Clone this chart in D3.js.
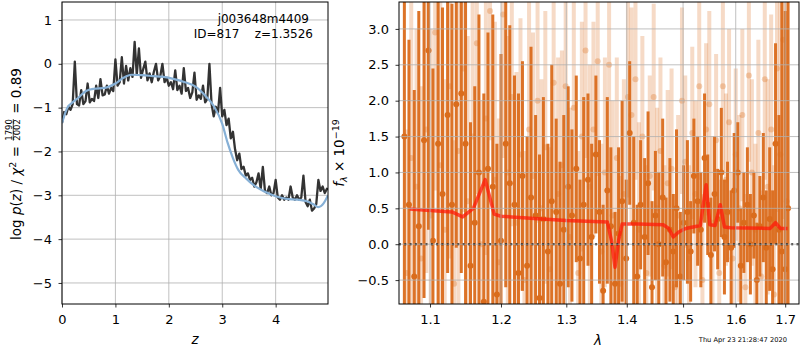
<!DOCTYPE html>
<html>
<head>
<meta charset="utf-8">
<script src="https://cdn.jsdelivr.net/npm/d3@7"></script>
<style>
  body { margin: 0; background: #fff; }
  svg { font-family: "DejaVu Sans", sans-serif; }
</style>
</head>
<body>
<div id="chart"></div>
<script>
// p(z) panel: redshift grid and log p(z) (noisy) + smooth prior curve
const pzZ = [0.00,0.04,0.08,0.12,0.16,0.20,0.24,0.28,0.32,0.36,0.40,0.44,0.48,0.52,0.56,0.60,0.64,0.68,0.72,0.76,0.80,0.84,0.88,0.92,0.96,
  1.00,1.04,1.08,1.12,1.16,1.20,1.24,1.28,1.32,1.36,1.40,1.44,1.48,1.52,1.56,1.60,1.64,1.68,1.72,1.76,1.80,1.84,1.88,1.92,1.96,
  2.00,2.04,2.08,2.12,2.16,2.20,2.24,2.28,2.32,2.36,2.40,2.44,2.48,2.52,2.56,2.60,2.64,2.68,2.72,2.76,2.80,2.84,2.88,2.92,2.96,
  3.00,3.04,3.08,3.12,3.16,3.20,3.24,3.28,3.32,3.36,3.40,3.44,3.48,3.52,3.56,3.60,3.64,3.68,3.72,3.76,3.80,3.84,3.88,3.92,3.96,
  4.00,4.04,4.08,4.12,4.16,4.20,4.24,4.28,4.32,4.36,4.40,4.44,4.48,4.52,4.56,4.60,4.64,4.68,4.72,4.76,4.80,4.84,4.88,4.92,4.96,4.98];
const pzLog = [-1.35,-1.10,-1.15,-0.98,-1.05,-0.92,0.05,-0.92,-0.95,-0.60,-0.92,-0.85,-0.45,-0.88,-0.80,-0.85,-0.50,-0.78,-0.35,-0.72,-0.70,-0.50,-0.68,-0.55,-0.62,
  0.10,-0.50,-0.42,0.15,-0.45,-0.05,-0.38,-0.10,-0.30,0.50,-0.25,0.35,-0.32,-0.12,0.05,-0.38,-0.22,-0.42,-0.18,0.00,-0.38,-0.28,0.00,-0.42,-0.32,
  -0.50,-0.42,-0.58,-0.15,-0.60,-0.50,-0.68,-0.10,-0.62,-0.55,-0.78,-0.65,-0.20,-0.82,-0.72,-0.80,-0.50,-0.88,-0.80,0.00,-0.92,-1.20,-0.98,-1.12,-0.55,
  -1.20,-1.05,-1.40,-1.25,-1.70,-1.55,-1.95,-2.20,-2.05,-2.40,-2.35,-2.55,-2.50,-2.65,-2.60,-2.80,-2.70,-2.50,-2.85,-2.35,-2.90,-2.95,-2.80,-3.00,-2.95,
  -2.65,-3.05,-3.10,-3.00,-3.10,-3.05,-3.10,-2.80,-3.05,-3.10,-3.00,-3.10,-3.05,-2.55,-3.15,-3.25,-3.10,-3.35,-3.30,-3.20,-2.65,-2.90,-2.80,-2.95,-2.85,-2.88];
const priorZ = [0,0.1,0.2,0.3,0.45,0.6,0.8,1.0,1.15,1.3,1.5,1.7,1.9,2.1,2.3,2.5,2.7,2.85,3.0,3.1,3.2,3.3,3.45,3.6,3.8,4.0,4.2,4.4,4.6,4.7,4.8,4.9,4.98];
const priorLog = [-1.35,-1.0,-0.88,-0.78,-0.62,-0.57,-0.55,-0.45,-0.32,-0.25,-0.26,-0.28,-0.30,-0.35,-0.42,-0.52,-0.75,-0.98,-1.37,-1.8,-2.15,-2.42,-2.62,-2.78,-2.92,-3.02,-3.08,-3.10,-3.14,-3.20,-3.27,-3.18,-3.0];

// spectrum panel: two sets of flux points (dark / faint) with errors
const darkLam = [1.066,1.072,1.079,1.085,1.092,1.098,1.104,1.111,1.117,1.124,1.130,1.136,1.143,1.149,1.156,1.162,1.168,1.175,1.181,1.188,
  1.194,1.200,1.207,1.213,1.220,1.226,1.232,1.239,1.245,1.252,1.258,1.264,1.271,1.277,1.284,1.290,1.296,1.303,1.309,1.316,
  1.322,1.328,1.335,1.341,1.348,1.354,1.360,1.367,1.373,1.380,1.386,1.392,1.399,1.405,1.412,1.418,1.424,1.431,1.437,1.444,
  1.450,1.456,1.463,1.469,1.476,1.482,1.488,1.495,1.501,1.508,1.514,1.520,1.527,1.533,1.540,1.546,1.552,1.559,1.565,1.572,
  1.578,1.584,1.591,1.597,1.604,1.610,1.616,1.623,1.629,1.636,1.642,1.648,1.655,1.661,1.668,1.674,1.680,1.687,1.693,1.700,1.706];
const darkFlux = [1.50,0.55,-0.45,0.25,1.45,2.70,0.05,1.40,0.70,1.80,0.55,1.95,2.10,1.40,-0.30,0.30,1.00,-0.80,1.05,0.80,
  -0.70,0.05,1.40,0.85,0.55,-0.40,0.95,-0.30,0.65,0.40,-0.75,0.35,-0.10,0.60,0.45,-0.55,0.20,0.80,0.40,1.05,
  -0.20,0.55,0.90,0.10,1.25,0.45,-0.65,0.75,0.25,-0.55,0.15,0.60,-0.20,1.55,0.30,-0.45,0.55,0.10,0.85,-0.60,
  0.40,0.00,0.65,-0.25,0.20,-0.10,0.50,-0.45,0.30,0.45,-0.10,0.95,0.60,0.20,1.20,0.55,-0.15,0.70,0.35,1.00,
  0.10,0.45,-0.05,0.75,1.00,-0.30,0.30,0.55,0.00,0.40,-0.50,0.25,0.65,-0.05,0.35,-0.35,1.40,0.20,-0.10,-0.35,0.50];
const darkErr = [2.8,2.3,2.6,3.0,2.2,2.5,2.4,3.0,2.6,2.2,2.8,2.0,2.5,2.4,2.0,1.9,2.2,2.9,1.9,2.4,
  2.1,2.6,2.0,2.2,1.8,2.5,1.6,1.8,2.1,1.4,2.0,1.7,1.5,1.9,1.3,1.7,1.6,1.4,1.2,1.3,
  1.1,1.5,1.2,1.3,1.1,1.0,1.2,1.3,1.1,1.0,1.2,1.4,1.1,1.0,1.2,1.0,0.9,1.1,1.0,1.2,
  0.9,1.0,1.1,0.9,1.0,0.8,1.1,0.9,0.8,1.0,0.7,0.8,0.9,0.8,0.9,0.7,0.8,0.8,0.7,0.9,
  0.8,0.7,0.8,0.8,0.7,0.8,0.7,0.8,0.7,0.6,0.8,0.7,0.9,0.8,1.0,1.1,1.4,1.6,3.5,3.6,3.0];

const faintLam = [1.069,1.075,1.082,1.088,1.095,1.101,1.107,1.114,1.120,1.127,1.133,1.139,1.146,1.152,1.159,1.165,1.171,1.178,1.184,1.191,
  1.197,1.203,1.210,1.216,1.223,1.229,1.235,1.242,1.248,1.255,1.261,1.267,1.274,1.280,1.287,1.293,1.299,1.306,1.312,1.319,
  1.325,1.331,1.338,1.344,1.351,1.357,1.363,1.370,1.376,1.383,1.389,1.395,1.402,1.408,1.415,1.421,1.427,1.434,1.440,1.447,
  1.453,1.459,1.466,1.472,1.479,1.485,1.491,1.498,1.504,1.511,1.517,1.523,1.530,1.536,1.543,1.549,1.555,1.562,1.568,1.575,
  1.581,1.587,1.594,1.600,1.607,1.613,1.619,1.626,1.632,1.639,1.645,1.651,1.658,1.664,1.671,1.677,1.683,1.690,1.696,1.703];
const faintFlux = [-0.40,1.20,0.80,-0.20,1.60,0.40,2.95,1.10,0.20,2.20,-0.55,1.30,2.45,0.60,1.50,2.80,0.00,1.75,3.25,0.90,
  -0.25,3.20,1.00,2.05,0.30,1.25,-0.50,1.60,0.95,2.00,0.50,1.35,-0.35,2.25,0.70,1.10,2.20,0.10,1.90,-0.40,
  1.50,2.70,0.80,1.60,2.55,-0.10,1.00,2.50,0.40,1.20,-0.55,0.70,2.05,1.80,2.30,0.20,1.50,-0.40,0.95,2.05,
  0.50,1.30,-0.30,0.85,1.05,-0.60,0.40,2.00,1.15,-0.20,1.55,0.70,2.20,-0.50,1.60,1.95,0.30,1.45,-0.40,2.20,
  0.90,1.70,-0.20,1.25,0.50,1.80,-0.60,2.35,1.00,0.20,1.55,-0.45,2.30,0.80,1.60,-0.70,2.45,1.25,2.85,0.60];
const faintErr = [2.0,2.5,2.2,2.4,2.0,2.6,2.2,2.3,2.1,2.4,2.0,2.2,2.0,2.3,2.0,2.1,2.0,1.9,1.8,2.2,
  2.0,2.0,1.9,1.8,2.1,1.9,1.8,1.9,2.0,1.7,1.8,1.9,1.7,1.8,1.9,1.6,1.7,1.8,1.6,1.7,
  1.6,1.5,1.7,1.5,1.6,1.5,1.6,1.5,1.6,1.4,1.5,1.6,1.4,1.5,1.4,1.5,1.4,1.5,1.4,1.3,
  1.4,1.3,1.4,1.3,1.4,1.3,1.4,1.3,1.2,1.3,1.2,1.3,1.3,1.2,1.2,1.3,1.2,1.2,1.3,1.2,
  1.2,1.3,1.2,1.2,1.3,1.2,1.3,1.2,1.3,1.2,1.3,1.2,1.4,1.5,1.6,1.8,2.0,2.4,2.5,3.0];

// best-fit template (red line)
const modelLam = [1.073,1.100,1.130,1.145,1.160,1.177,1.190,1.200,1.250,1.300,1.367,1.374,1.380,1.386,1.392,1.420,1.464,1.474,1.482,1.492,1.505,1.532,1.543,1.550,1.560,1.570,1.578,1.590,1.669,1.680,1.690,1.705];
const modelFlux = [0.49,0.47,0.45,0.38,0.50,0.90,0.42,0.39,0.36,0.33,0.31,0.05,-0.32,0.05,0.28,0.28,0.27,0.22,0.10,0.17,0.22,0.26,0.83,0.27,0.26,0.55,0.24,0.23,0.22,0.30,0.22,0.22];

const zTicks = [0, 1, 2, 3, 4];
const logTicks = [1, 0, -1, -2, -3, -4, -5];
const lamTicks = [1.1, 1.2, 1.3, 1.4, 1.5, 1.6, 1.7];
const fluxTicks = [-0.5, 0, 0.5, 1.0, 1.5, 2.0, 2.5, 3.0];

const W = 800, H = 350;
const orange = "#da6c1c";

const svg = d3.select("#chart").append("svg")
    .attr("width", W)
    .attr("height", H);
svg.append("rect").attr("width", W).attr("height", H).attr("fill", "#fff");

// panel boxes
const left = { x0: 62, x1: 328, y0: 2, y1: 304 };
const right = { x0: 399, x1: 799, y0: 2, y1: 304 };

// scales
const xz = d3.scaleLinear().domain([0, 4.98]).range([left.x0, left.x1]);
const yp = d3.scaleLinear().domain([-5.48, 1.41]).range([left.y1, left.y0]);
const xl = d3.scaleLog().domain([1.059, 1.729]).range([right.x0, right.x1]);
const yf = d3.scaleLinear().domain([-0.833, 3.375]).range([right.y1, right.y0]);

function styleAxis(g) {
    g.attr("font-family", "DejaVu Sans").attr("font-size", 13);
    g.select(".domain").remove();
    g.selectAll(".tick line").attr("stroke", "#000").attr("stroke-width", 0.8);
    g.selectAll(".tick text").attr("fill", "#000");
}

function drawGrid(box, xs, ys, xt, yt) {
    const g = svg.append("g").attr("stroke", "#b0b0b0").attr("stroke-width", 0.8);
    g.selectAll(".gx").data(xt).enter().append("line")
        .attr("x1", d => xs(d)).attr("x2", d => xs(d))
        .attr("y1", box.y0).attr("y2", box.y1);
    g.selectAll(".gy").data(yt).enter().append("line")
        .attr("x1", box.x0).attr("x2", box.x1)
        .attr("y1", d => ys(d)).attr("y2", d => ys(d));
}

function drawAxes(box, xs, ys, xt, yt, xfmt, yfmt) {
    svg.append("g")
        .attr("transform", `translate(0,${box.y1})`)
        .call(d3.axisBottom(xs).tickValues(xt).tickFormat(xfmt).tickSize(3.5).tickPadding(7.5))
        .call(styleAxis);
    svg.append("g")
        .attr("transform", `translate(${box.x0},0)`)
        .call(d3.axisLeft(ys).tickValues(yt).tickFormat(yfmt).tickSize(3.5).tickPadding(6.5))
        .call(styleAxis);
    svg.append("rect")
        .attr("x", box.x0).attr("y", box.y0)
        .attr("width", box.x1 - box.x0).attr("height", box.y1 - box.y0)
        .attr("fill", "none").attr("stroke", "#000").attr("stroke-width", 1);
}

function addClip(id, box) {
    svg.append("clipPath").attr("id", id).append("rect")
        .attr("x", box.x0).attr("y", box.y0)
        .attr("width", box.x1 - box.x0).attr("height", box.y1 - box.y0);
}
addClip("clipL", left);
addClip("clipR", right);

// ---------- left panel ----------
drawGrid(left, xz, yp, zTicks, logTicks);

const gL = svg.append("g").attr("clip-path", "url(#clipL)");
gL.append("path")
    .datum(pzZ.map((z, i) => [z, pzLog[i]]))
    .attr("fill", "none")
    .attr("stroke", "#333")
    .attr("stroke-width", 2.3)
    .attr("stroke-linejoin", "round")
    .attr("d", d3.line().x(d => xz(d[0])).y(d => yp(d[1])));

gL.append("path")
    .datum(priorZ.map((z, i) => [z, priorLog[i]]))
    .attr("fill", "none")
    .attr("stroke", "#86b0d6")
    .attr("stroke-width", 2.2)
    .attr("d", d3.line().curve(d3.curveMonotoneX).x(d => xz(d[0])).y(d => yp(d[1])));

drawAxes(left, xz, yp, zTicks, logTicks, d3.format("d"), d3.format("d"));

// id text
svg.append("text").attr("x", 309).attr("y", 23).attr("text-anchor", "end")
    .attr("font-size", 12).text("j003648m4409");
svg.append("text").attr("x", 313).attr("y", 38).attr("text-anchor", "end")
    .attr("font-size", 12).attr("xml:space", "preserve").text("ID=817    z=1.3526");

// x label
svg.append("text").attr("x", 195).attr("y", 344).attr("text-anchor", "middle")
    .attr("font-size", 13.5).attr("font-style", "italic").text("z");

// y label with fraction
const yl = svg.append("g").attr("transform", "translate(21,154) rotate(-90)");
const ylIn = yl.append("g");
const t1 = ylIn.append("text").attr("font-size", 13.5);
t1.append("tspan").text("log ");
t1.append("tspan").attr("font-style", "italic").text("p");
t1.append("tspan").text("(");
t1.append("tspan").attr("font-style", "italic").text("z");
t1.append("tspan").text(") / ");
t1.append("tspan").attr("font-style", "italic").text("χ");
t1.append("tspan").attr("font-size", 9.5).attr("dy", -5.5).text("2");
t1.append("tspan").attr("dy", 5.5).attr("xml:space", "preserve").text(" = ");
const w1 = t1.node().getComputedTextLength();
const num = ylIn.append("text").attr("font-size", 8.5).attr("y", -9.5).text("1790");
const fw = num.node().getComputedTextLength();
num.attr("x", w1 + 1);
ylIn.append("text").attr("font-size", 8.5).attr("x", w1 + 1).attr("y", -1.5).text("2002");
ylIn.append("line").attr("x1", w1 + 1).attr("x2", w1 + 1 + fw)
    .attr("y1", -7.7).attr("y2", -7.7).attr("stroke", "#000").attr("stroke-width", 0.7);
const t3 = ylIn.append("text").attr("font-size", 13.5).attr("x", w1 + fw + 2)
    .attr("xml:space", "preserve").text(" = 0.89");
const wTot = w1 + fw + 2 + t3.node().getComputedTextLength();
ylIn.attr("transform", `translate(${-wTot / 2},0)`);

// ---------- right panel ----------
const gR = svg.append("g").attr("clip-path", "url(#clipR)");

const faint = faintLam.map((l, i) => ({ l, f: faintFlux[i], e: faintErr[i] }));
const dark = darkLam.map((l, i) => ({ l, f: darkFlux[i], e: darkErr[i] }));

gR.append("g").selectAll("line").data(faint).enter().append("line")
    .attr("x1", d => xl(d.l)).attr("x2", d => xl(d.l))
    .attr("y1", d => yf(d.f - d.e)).attr("y2", d => yf(d.f + d.e))
    .attr("stroke", orange).attr("stroke-opacity", 0.25).attr("stroke-width", 4);
gR.append("g").selectAll("circle").data(faint).enter().append("circle")
    .attr("cx", d => xl(d.l)).attr("cy", d => yf(d.f)).attr("r", 3)
    .attr("fill", orange).attr("fill-opacity", 0.3);

gR.append("g").selectAll("line").data(dark).enter().append("line")
    .attr("x1", d => xl(d.l)).attr("x2", d => xl(d.l))
    .attr("y1", d => yf(d.f - d.e)).attr("y2", d => yf(d.f + d.e))
    .attr("stroke", orange).attr("stroke-opacity", 0.95).attr("stroke-width", 3);
gR.append("g").selectAll("circle").data(dark).enter().append("circle")
    .attr("cx", d => xl(d.l)).attr("cy", d => yf(d.f)).attr("r", 3)
    .attr("fill", orange);

drawGrid(right, xl, yf, lamTicks, fluxTicks);

gR.append("path")
    .datum(modelLam.map((l, i) => [l, modelFlux[i]]))
    .attr("fill", "none")
    .attr("stroke", "#ff1a0a")
    .attr("stroke-opacity", 0.75)
    .attr("stroke-width", 3.5)
    .attr("stroke-linejoin", "round")
    .attr("d", d3.line().x(d => xl(d[0])).y(d => yf(d[1])));

gR.append("line")
    .attr("x1", right.x0).attr("x2", right.x1)
    .attr("y1", yf(0)).attr("y2", yf(0))
    .attr("stroke", "#000").attr("stroke-width", 2).attr("stroke-dasharray", "2,3.3");

drawAxes(right, xl, yf, lamTicks, fluxTicks, d3.format(".1f"), d3.format(".1f"));

svg.append("text").attr("x", 598).attr("y", 345).attr("text-anchor", "middle")
    .attr("font-size", 13.5).attr("font-style", "italic").text("λ");

const ylR = svg.append("text")
    .attr("transform", "translate(344,153) rotate(-90)")
    .attr("text-anchor", "middle").attr("font-size", 13.5);
ylR.append("tspan").attr("font-style", "italic").text("f");
ylR.append("tspan").attr("font-style", "italic").attr("font-size", 9.5).attr("dy", 3).text("λ");
ylR.append("tspan").attr("dy", -3).attr("xml:space", "preserve").text(" × 10");
ylR.append("tspan").attr("font-size", 9.5).attr("dy", -5.5).text("−19");

// timestamp
svg.append("text").attr("x", 787).attr("y", 342).attr("text-anchor", "end")
    .attr("font-size", 6.7).text("Thu Apr 23 21:28:47 2020");
</script>
</body>
</html>
